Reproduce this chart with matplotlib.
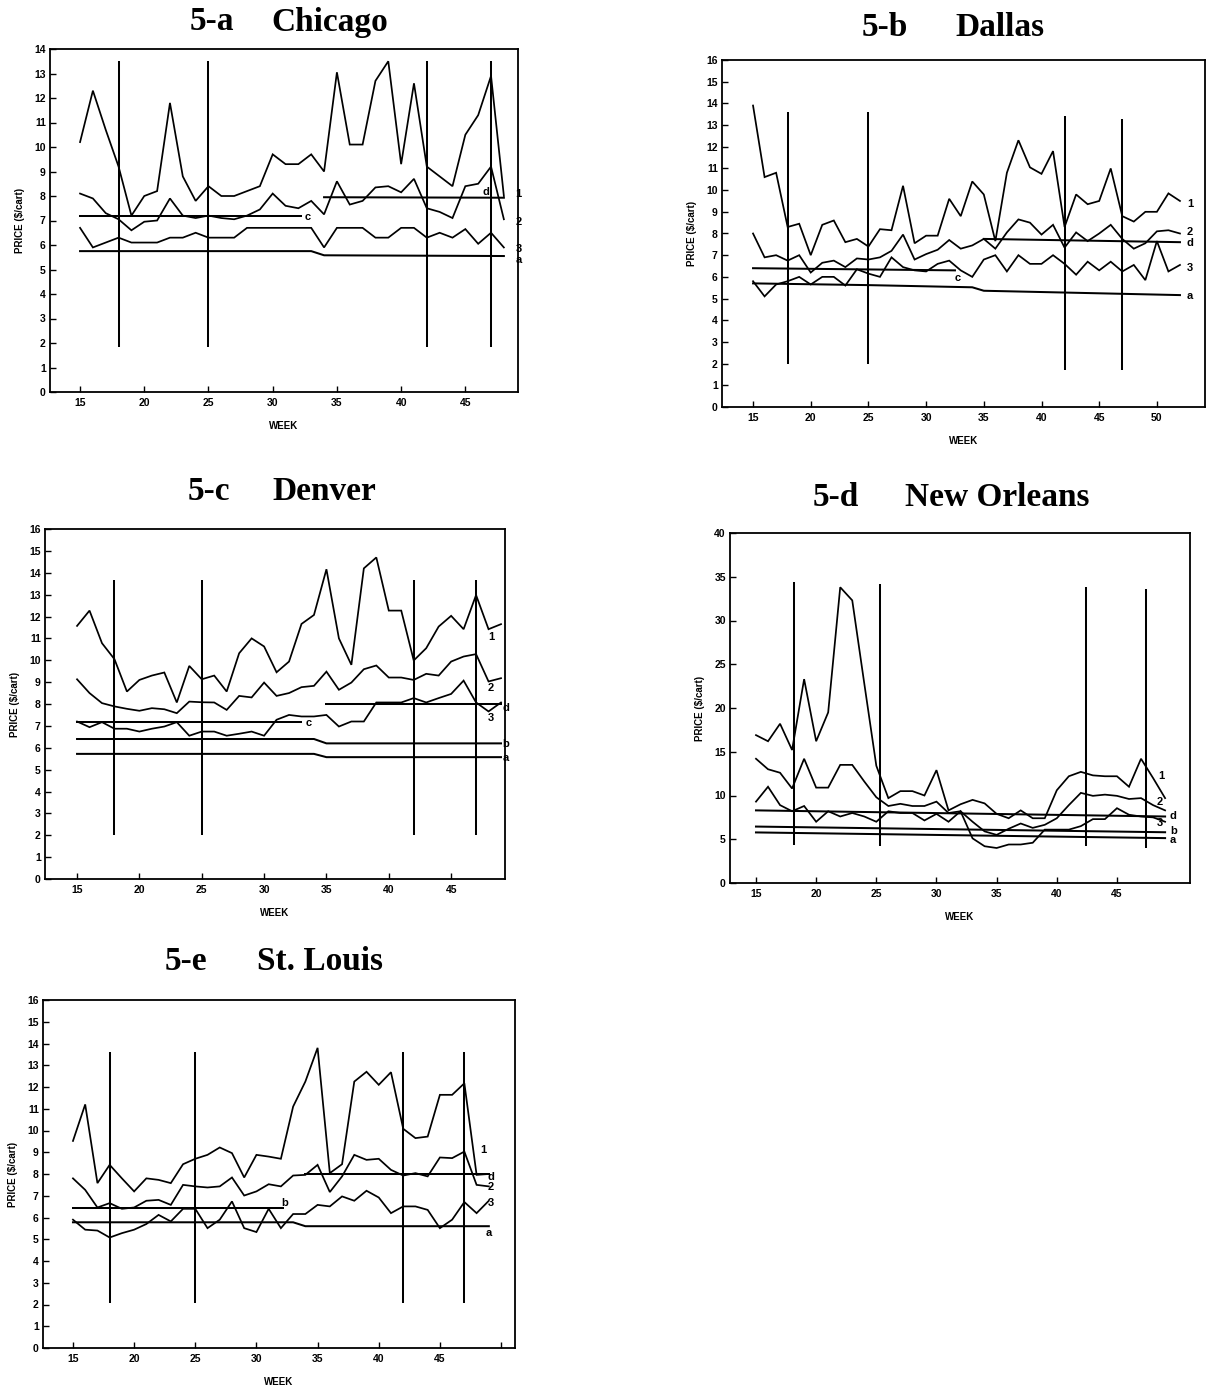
import matplotlib
matplotlib.use("Agg")
import matplotlib.pyplot as plt

W, H = 1213, 1385

# ---------------- data ----------------
# 5-a Chicago (weeks 15-48)
chi_weeks = list(range(15, 49))
chi_1 = [10.2, 12.3, 10.7, 9.2, 7.2, 8.0, 8.2, 11.8, 8.8, 7.8, 8.4, 8.0, 8.0, 8.2, 8.4, 9.7, 9.3,
         9.3, 9.7, 9.0, 13.05, 10.1, 10.1, 12.7, 13.5, 9.3, 12.6, 9.2, 8.8, 8.4, 10.5, 11.3, 12.9, 8.0]
chi_2 = [8.1, 7.9, 7.3, 7.05, 6.6, 6.95, 7.0, 7.9, 7.2, 7.1, 7.2, 7.1, 7.05, 7.2, 7.45, 8.1, 7.6,
         7.5, 7.8, 7.25, 8.6, 7.65, 7.8, 8.35, 8.4, 8.15, 8.7, 7.5, 7.35, 7.1, 8.4, 8.5, 9.2, 7.05]
chi_3 = [6.7, 5.9, 6.1, 6.3, 6.1, 6.1, 6.1, 6.3, 6.3, 6.5, 6.3, 6.3, 6.3, 6.7, 6.7, 6.7, 6.7,
         6.7, 6.7, 5.9, 6.7, 6.7, 6.7, 6.3, 6.3, 6.7, 6.7, 6.3, 6.5, 6.3, 6.65, 6.05, 6.5, 5.9]
chi_c_weeks, chi_c_vals = [15, 32.2], [7.2, 7.2]
chi_d_weeks, chi_d_vals = [34, 48], [7.95, 7.93]
chi_a_weeks, chi_a_vals = [15, 33, 34, 48], [5.75, 5.75, 5.58, 5.55]
chi_vl_weeks = [18, 25, 42, 47]
chi_vl_low = [1.85, 1.85, 1.85, 1.85]
chi_vl_high = [13.5, 13.5, 13.5, 13.5]

# 5-b Dallas (weeks 15-52)
dal_weeks = list(range(15, 53))
dal_1 = [13.9, 10.6, 10.8, 8.3, 8.45, 7.0, 8.4, 8.6, 7.6, 7.75, 7.4, 8.2, 8.15, 10.2, 7.55, 7.9,
         7.9, 9.6, 8.8, 10.4, 9.8, 7.65, 10.8, 12.3, 11.05, 10.75, 11.8, 8.3, 9.8, 9.35, 9.5,
         11.0, 8.8, 8.55, 9.0, 9.0, 9.85, 9.5]
dal_2 = [8.0, 6.9, 7.0, 6.75, 7.0, 6.2, 6.65, 6.75, 6.45, 6.85, 6.8, 6.9, 7.2, 7.95, 6.8, 7.05,
         7.25, 7.7, 7.3, 7.45, 7.75, 7.3, 8.05, 8.65, 8.5, 7.95, 8.4, 7.35, 8.05, 7.65, 8.0,
         8.4, 7.75, 7.3, 7.55, 8.1, 8.15, 8.0]
dal_3 = [5.8, 5.1, 5.65, 5.8, 6.0, 5.65, 6.0, 6.0, 5.6, 6.35, 6.15, 6.0, 6.9, 6.45, 6.3, 6.25,
         6.6, 6.75, 6.3, 6.0, 6.8, 7.0, 6.25, 7.0, 6.6, 6.6, 7.0, 6.6, 6.1, 6.7, 6.3, 6.7,
         6.25, 6.55, 5.85, 7.65, 6.25, 6.55]
dal_c_weeks, dal_c_vals = [15, 32.5], [6.4, 6.3]
dal_d_weeks, dal_d_vals = [35, 52], [7.75, 7.6]
dal_a_weeks, dal_a_vals = [15, 25, 34, 35, 52], [5.7, 5.62, 5.52, 5.36, 5.16]
dal_vl_weeks = [18, 25, 42, 47]
dal_vl_low = [2.0, 2.0, 1.7, 1.7]
dal_vl_high = [13.6, 13.6, 13.4, 13.3]

# 5-c Denver (weeks 15-49)
den_weeks = list(range(15, 50))
den_1 = [11.57, 12.27, 10.78, 10.05, 8.57, 9.1, 9.3, 9.44, 8.07, 9.74, 9.13, 9.3, 8.57, 10.32,
         11.0, 10.63, 9.45, 9.94, 11.66, 12.07, 14.16, 11.0, 9.79, 14.2, 14.7, 12.27, 12.27,
         9.99, 10.55, 11.54, 12.03, 11.42, 12.98, 11.42, 11.65]
den_2 = [9.13, 8.5, 8.04, 7.89, 7.78, 7.69, 7.81, 7.76, 7.58, 8.11, 8.08, 8.07, 7.73, 8.37,
         8.3, 8.98, 8.37, 8.5, 8.77, 8.83, 9.48, 8.65, 8.98, 9.59, 9.76, 9.21, 9.21, 9.1,
         9.38, 9.3, 9.94, 10.17, 10.28, 9.03, 9.18]
den_3 = [7.2, 6.94, 7.17, 6.87, 6.87, 6.74, 6.87, 6.97, 7.17, 6.55, 6.74, 6.74, 6.55, 6.64,
         6.74, 6.55, 7.28, 7.5, 7.43, 7.43, 7.5, 6.97, 7.2, 7.2, 8.07, 8.07, 8.07, 8.27,
         8.07, 8.27, 8.46, 9.07, 8.07, 7.66, 8.07]
den_c_weeks, den_c_vals = [15, 33], [7.2, 7.2]
den_d_weeks, den_d_vals = [35, 49], [8.0, 8.0]
den_b_weeks, den_b_vals = [15, 34, 35, 49], [6.4, 6.4, 6.2, 6.2]
den_a_weeks, den_a_vals = [15, 34, 35, 49], [5.72, 5.72, 5.57, 5.57]
den_vl_weeks = [18, 25, 42, 47]
den_vl_low = [2.0, 2.0, 2.0, 2.0]
den_vl_high = [13.65, 13.65, 13.65, 13.65]

# 5-d New Orleans (weeks 15-49)
no_weeks = list(range(15, 50))
no_1 = [16.9, 16.2, 18.2, 15.2, 23.3, 16.2, 19.5, 33.8, 32.3, 22.8, 13.4, 9.7, 10.5, 10.5,
        10.0, 12.9, 8.3, 9.0, 9.5, 9.1, 7.9, 7.4, 8.3, 7.4, 7.4, 10.6, 12.2, 12.7, 12.3, 12.2,
        12.2, 11.0, 14.2, 12.0, 9.7]
no_2 = [14.2, 13.0, 12.6, 10.8, 14.2, 10.9, 10.9, 13.5, 13.5, 11.6, 9.8, 8.8, 9.05, 8.8, 8.8,
        9.3, 8.0, 8.2, 7.0, 5.9, 5.5, 6.2, 6.8, 6.3, 6.65, 7.4, 8.9, 10.3, 9.96, 10.1, 9.96,
        9.6, 9.7, 8.9, 8.3]
no_3 = [9.3, 11.0, 8.9, 8.2, 8.8, 7.0, 8.2, 7.6, 8.0, 7.6, 7.0, 8.2, 8.0, 8.0, 7.15, 7.9, 7.0,
        8.2, 5.1, 4.2, 4.0, 4.4, 4.4, 4.6, 6.1, 6.1, 6.1, 6.5, 7.3, 7.3, 8.55, 7.8, 7.6, 7.5, 7.0]
no_d_weeks, no_d_vals = [15, 49], [8.3, 7.6]
no_b_weeks, no_b_vals = [15, 49], [6.45, 5.8]
no_a_weeks, no_a_vals = [15, 49], [5.78, 5.13]
no_vl_weeks = [18.2, 25.3, 42.4, 47.4]
no_vl_low = [4.4, 4.2, 4.2, 4.0]
no_vl_high = [34.4, 34.2, 33.8, 33.6]

# 5-e St. Louis (weeks 15-49)
stl_weeks = list(range(15, 50))
stl_1 = [9.52, 11.2, 7.58, 8.42, 7.8, 7.2, 7.8, 7.73, 7.58, 8.45, 8.7, 8.88, 9.22, 8.96, 7.84,
         8.88, 8.8, 8.7, 11.1, 12.25, 13.8, 8.04, 8.45, 12.25, 12.7, 12.1, 12.68, 10.08, 9.65,
         9.72, 11.64, 11.64, 12.17, 7.96, 8.0]
stl_2 = [7.8, 7.27, 6.46, 6.66, 6.4, 6.46, 6.77, 6.81, 6.58, 7.5, 7.43, 7.38, 7.43, 7.84, 7.01,
         7.2, 7.53, 7.43, 7.93, 7.96, 8.42, 7.17, 7.89, 8.88, 8.65, 8.7, 8.19, 7.93, 8.04, 7.89,
         8.76, 8.73, 9.03, 7.5, 7.43]
stl_3 = [5.9, 5.44, 5.4, 5.08, 5.28, 5.44, 5.7, 6.12, 5.82, 6.4, 6.4, 5.51, 5.9, 6.74, 5.51,
         5.33, 6.4, 5.51, 6.16, 6.16, 6.58, 6.51, 6.97, 6.77, 7.23, 6.92, 6.2, 6.51, 6.51, 6.35,
         5.51, 5.9, 6.71, 6.2, 6.77]
stl_b_weeks, stl_b_vals = [15, 32.2], [6.45, 6.45]
stl_d_weeks, stl_d_vals = [34, 49], [8.0, 8.0]
stl_a_weeks, stl_a_vals = [15, 33, 34, 49], [5.78, 5.78, 5.6, 5.6]
stl_vl_weeks = [18, 25, 42, 47]
stl_vl_low = [2.07, 2.07, 2.07, 2.07]
stl_vl_high = [13.63, 13.63, 13.63, 13.63]

# ---------------- layout ----------------
plt.rcParams['font.family'] = ['Liberation Sans', 'DejaVu Sans']
plt.rcParams['font.weight'] = 'bold'

fig = plt.figure(figsize=(W / 100, H / 100), dpi=100)
fig.patch.set_facecolor('white')

panels = [
    dict(code='5-a', city='Chicago', box=(50, 49, 518, 392), xlim=(12.66, 49.1), ylim=(0, 14),
         yticks=list(range(0, 15)), xticks=[15, 20, 25, 30, 35, 40, 45],
         title_pos=((212, 22), (330, 22)),
         weeks=chi_weeks, series=[chi_1, chi_2, chi_3],
         hlines=[(chi_c_weeks, chi_c_vals), (chi_d_weeks, chi_d_vals), (chi_a_weeks, chi_a_vals)],
         vl=(chi_vl_weeks, chi_vl_low, chi_vl_high),
         labels=[('1', 48.9, 8.1), ('2', 48.9, 6.95), ('3', 48.9, 5.85), ('a', 48.9, 5.4),
                 ('d', 46.3, 8.15), ('c', 32.5, 7.15)]),
    dict(code='5-b', city='Dallas', box=(722, 60, 1205, 407), xlim=(12.31, 54.17), ylim=(0, 16),
         yticks=list(range(0, 17)), xticks=[15, 20, 25, 30, 35, 40, 45, 50],
         title_pos=((885, 28), (1000, 28)),
         weeks=dal_weeks, series=[dal_1, dal_2, dal_3],
         hlines=[(dal_c_weeks, dal_c_vals), (dal_d_weeks, dal_d_vals), (dal_a_weeks, dal_a_vals)],
         vl=(dal_vl_weeks, dal_vl_low, dal_vl_high),
         labels=[('1', 52.6, 9.34), ('2', 52.6, 8.05), ('d', 52.6, 7.55), ('3', 52.6, 6.4),
                 ('a', 52.6, 5.13), ('c', 32.5, 5.95)]),
    dict(code='5-c', city='Denver', box=(45, 529, 505, 879), xlim=(12.43, 49.32), ylim=(0, 16),
         yticks=list(range(0, 17)), xticks=[15, 20, 25, 30, 35, 40, 45],
         title_pos=((209, 492), (324, 492)),
         weeks=den_weeks, series=[den_1, den_2, den_3],
         hlines=[(den_c_weeks, den_c_vals), (den_d_weeks, den_d_vals), (den_b_weeks, den_b_vals),
                 (den_a_weeks, den_a_vals)],
         vl=(den_vl_weeks, den_vl_low, den_vl_high),
         labels=[('1', 47.96, 11.08), ('2', 47.96, 8.72), ('d', 49.1, 7.8), ('3', 47.96, 7.35),
                 ('b', 49.1, 6.18), ('a', 49.1, 5.53), ('c', 33.3, 7.15)]),
    dict(code='5-d', city='New Orleans', box=(730, 533, 1190, 883), xlim=(12.84, 51.07), ylim=(0, 40),
         yticks=list(range(0, 41, 5)), xticks=[15, 20, 25, 30, 35, 40, 45],
         title_pos=((836, 498), (997, 498)),
         weeks=no_weeks, series=[no_1, no_2, no_3],
         hlines=[(no_d_weeks, no_d_vals), (no_b_weeks, no_b_vals), (no_a_weeks, no_a_vals)],
         vl=(no_vl_weeks, no_vl_low, no_vl_high),
         labels=[('1', 48.4, 12.2), ('2', 48.3, 9.3), ('d', 49.4, 7.6), ('3', 48.3, 6.85),
                 ('b', 49.4, 5.9), ('a', 49.4, 4.95)]),
    dict(code='5-e', city='St. Louis', box=(43, 1000, 515, 1348), xlim=(12.55, 51.14), ylim=(0, 16),
         yticks=list(range(0, 17)), xticks=[15, 20, 25, 30, 35, 40, 45, 50],
         title_pos=((186, 962), (320, 962)),
         weeks=stl_weeks, series=[stl_1, stl_2, stl_3],
         hlines=[(stl_b_weeks, stl_b_vals), (stl_d_weeks, stl_d_vals), (stl_a_weeks, stl_a_vals)],
         vl=(stl_vl_weeks, stl_vl_low, stl_vl_high),
         labels=[('1', 48.3, 9.1), ('d', 48.9, 7.84), ('2', 48.9, 7.38), ('3', 48.9, 6.66),
                 ('a', 48.7, 5.28), ('b', 32.0, 6.66)]),
]

LW = 1.25
for p in panels:
    l, t, r, b = p['box']
    ax = fig.add_axes([l / W, 1 - b / H, (r - l) / W, (b - t) / H])
    for s in p['series']:
        ax.plot(p['weeks'], s, color='black', lw=LW, solid_joinstyle='miter')
    for hw, hv in p['hlines']:
        ax.plot(hw, hv, color='black', lw=LW + 0.2)
    vw, vlo, vhi = p['vl']
    ax.vlines(vw, vlo, vhi, color='black', lw=LW + 0.2)
    for txt, x, y in p['labels']:
        ax.text(x, y, txt, fontsize=8, fontweight='bold', ha='left', va='center')
    ax.set_xlim(*p['xlim'])
    ax.set_ylim(*p['ylim'])
    ax.set_yticks(p['yticks'])
    ax.set_xticks(p['xticks'])
    xl = [str(v) if v <= 45 or p['code'] == '5-b' else '' for v in p['xticks']]
    ax.set_xticklabels(xl)
    ax.tick_params(direction='in', length=4, width=1.0, labelsize=7.5)
    ax.tick_params(axis='x', pad=4)
    ax.tick_params(axis='y', pad=3)
    for sp in ax.spines.values():
        sp.set_linewidth(1.3)
    # titles
    (cx1, cy1), (cx2, cy2) = p['title_pos']
    fig.text(cx1 / W, 1 - cy1 / H, p['code'], fontsize=24, fontweight='bold',
             family=['Liberation Serif', 'DejaVu Serif'], ha='center', va='center')
    fig.text(cx2 / W, 1 - cy2 / H, p['city'], fontsize=24, fontweight='bold',
             family=['Liberation Serif', 'DejaVu Serif'], ha='center', va='center')
    # axis labels
    fig.text((l - 30) / W, 1 - ((t + b) / 2) / H, 'PRICE ($/cart)', rotation=90, fontsize=7,
             fontweight='bold', ha='center', va='center')
    fig.text(((l + r) / 2) / W, 1 - (b + 34) / H, 'WEEK', fontsize=7, fontweight='bold',
             ha='center', va='center')

fig.savefig('out.png', dpi=100, facecolor='white')
